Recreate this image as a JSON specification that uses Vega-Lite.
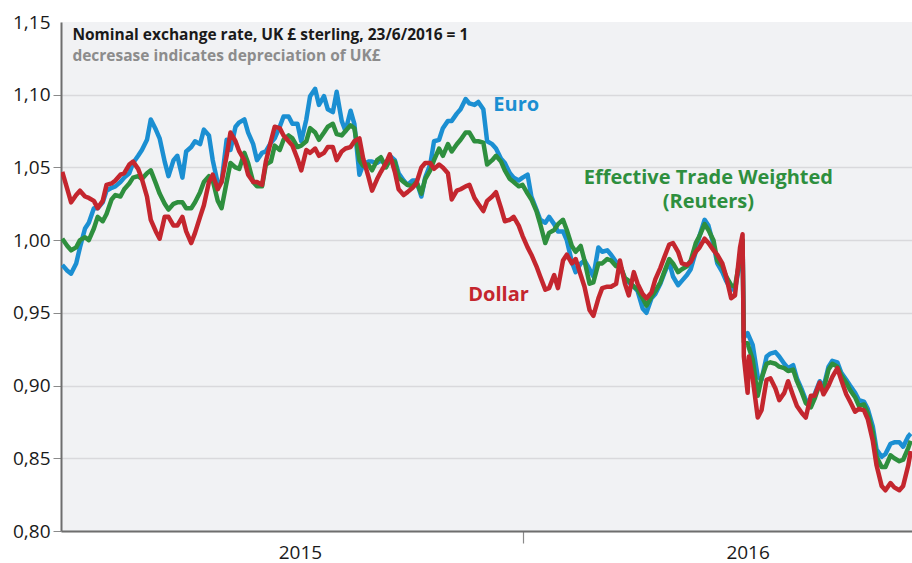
{
  "$schema": "https://vega.github.io/schema/vega-lite/v6.json",
  "width": 851,
  "height": 509,
  "autosize": {"type": "none"},
  "padding": {"left": 61, "top": 22, "right": 0, "bottom": 32},
  "background": "white",
  "config": {"view": {"fill": "#f1f2f4", "stroke": null}, "font": "Open Sans"},
  "datasets": {
    "fx": [
    {"d":"2015-01-02","e":0.983,"t":1.001,"u":1.047},
    {"d":"2015-01-06","e":0.979,"t":0.996,"u":1.035},
    {"d":"2015-01-09","e":0.977,"t":0.993,"u":1.026},
    {"d":"2015-01-13","e":0.984,"t":0.995,"u":1.031},
    {"d":"2015-01-16","e":0.995,"t":1.000,"u":1.034},
    {"d":"2015-01-20","e":1.008,"t":1.002,"u":1.030},
    {"d":"2015-01-23","e":1.012,"t":1.000,"u":1.029},
    {"d":"2015-01-27","e":1.022,"t":1.008,"u":1.027},
    {"d":"2015-01-30","e":1.022,"t":1.016,"u":1.022},
    {"d":"2015-02-03","e":1.026,"t":1.013,"u":1.027},
    {"d":"2015-02-06","e":1.034,"t":1.018,"u":1.038},
    {"d":"2015-02-10","e":1.036,"t":1.028,"u":1.039},
    {"d":"2015-02-13","e":1.037,"t":1.031,"u":1.041},
    {"d":"2015-02-17","e":1.040,"t":1.030,"u":1.045},
    {"d":"2015-02-20","e":1.043,"t":1.035,"u":1.046},
    {"d":"2015-02-24","e":1.046,"t":1.039,"u":1.052},
    {"d":"2015-02-27","e":1.053,"t":1.043,"u":1.054},
    {"d":"2015-03-03","e":1.058,"t":1.044,"u":1.049},
    {"d":"2015-03-06","e":1.062,"t":1.042,"u":1.042},
    {"d":"2015-03-10","e":1.069,"t":1.046,"u":1.030},
    {"d":"2015-03-13","e":1.083,"t":1.048,"u":1.014},
    {"d":"2015-03-17","e":1.076,"t":1.039,"u":1.006},
    {"d":"2015-03-20","e":1.070,"t":1.032,"u":1.001},
    {"d":"2015-03-24","e":1.054,"t":1.025,"u":1.016},
    {"d":"2015-03-27","e":1.044,"t":1.021,"u":1.016},
    {"d":"2015-03-31","e":1.055,"t":1.025,"u":1.010},
    {"d":"2015-04-03","e":1.058,"t":1.026,"u":1.010},
    {"d":"2015-04-07","e":1.043,"t":1.026,"u":1.016},
    {"d":"2015-04-10","e":1.061,"t":1.022,"u":1.006},
    {"d":"2015-04-14","e":1.064,"t":1.022,"u":0.998},
    {"d":"2015-04-17","e":1.068,"t":1.026,"u":1.005},
    {"d":"2015-04-21","e":1.066,"t":1.033,"u":1.016},
    {"d":"2015-04-24","e":1.076,"t":1.040,"u":1.024},
    {"d":"2015-04-28","e":1.072,"t":1.044,"u":1.040},
    {"d":"2015-05-01","e":1.055,"t":1.041,"u":1.045},
    {"d":"2015-05-05","e":1.039,"t":1.027,"u":1.035},
    {"d":"2015-05-08","e":1.040,"t":1.022,"u":1.040},
    {"d":"2015-05-12","e":1.069,"t":1.040,"u":1.058},
    {"d":"2015-05-15","e":1.062,"t":1.053,"u":1.074},
    {"d":"2015-05-19","e":1.078,"t":1.050,"u":1.068},
    {"d":"2015-05-22","e":1.081,"t":1.049,"u":1.061},
    {"d":"2015-05-26","e":1.083,"t":1.060,"u":1.055},
    {"d":"2015-05-29","e":1.074,"t":1.053,"u":1.045},
    {"d":"2015-06-02","e":1.066,"t":1.040,"u":1.040},
    {"d":"2015-06-05","e":1.055,"t":1.037,"u":1.040},
    {"d":"2015-06-09","e":1.060,"t":1.037,"u":1.038},
    {"d":"2015-06-12","e":1.061,"t":1.052,"u":1.054},
    {"d":"2015-06-16","e":1.067,"t":1.054,"u":1.068},
    {"d":"2015-06-19","e":1.070,"t":1.065,"u":1.078},
    {"d":"2015-06-23","e":1.078,"t":1.062,"u":1.077},
    {"d":"2015-06-26","e":1.085,"t":1.069,"u":1.072},
    {"d":"2015-06-30","e":1.085,"t":1.072,"u":1.068},
    {"d":"2015-07-03","e":1.080,"t":1.070,"u":1.065},
    {"d":"2015-07-07","e":1.080,"t":1.064,"u":1.056},
    {"d":"2015-07-10","e":1.068,"t":1.065,"u":1.048},
    {"d":"2015-07-14","e":1.083,"t":1.068,"u":1.062},
    {"d":"2015-07-17","e":1.099,"t":1.077,"u":1.060},
    {"d":"2015-07-21","e":1.104,"t":1.074,"u":1.063},
    {"d":"2015-07-24","e":1.093,"t":1.069,"u":1.058},
    {"d":"2015-07-28","e":1.099,"t":1.074,"u":1.060},
    {"d":"2015-07-31","e":1.090,"t":1.078,"u":1.064},
    {"d":"2015-08-04","e":1.088,"t":1.080,"u":1.064},
    {"d":"2015-08-07","e":1.102,"t":1.073,"u":1.055},
    {"d":"2015-08-11","e":1.082,"t":1.072,"u":1.061},
    {"d":"2015-08-14","e":1.075,"t":1.075,"u":1.063},
    {"d":"2015-08-18","e":1.089,"t":1.079,"u":1.064},
    {"d":"2015-08-21","e":1.080,"t":1.077,"u":1.068},
    {"d":"2015-08-25","e":1.045,"t":1.055,"u":1.070},
    {"d":"2015-08-28","e":1.052,"t":1.051,"u":1.056},
    {"d":"2015-09-01","e":1.054,"t":1.052,"u":1.044},
    {"d":"2015-09-04","e":1.054,"t":1.048,"u":1.034},
    {"d":"2015-09-08","e":1.053,"t":1.055,"u":1.042},
    {"d":"2015-09-11","e":1.055,"t":1.057,"u":1.047},
    {"d":"2015-09-15","e":1.052,"t":1.050,"u":1.053},
    {"d":"2015-09-18","e":1.058,"t":1.055,"u":1.059},
    {"d":"2015-09-22","e":1.055,"t":1.054,"u":1.047},
    {"d":"2015-09-25","e":1.046,"t":1.043,"u":1.035},
    {"d":"2015-09-29","e":1.041,"t":1.040,"u":1.031},
    {"d":"2015-10-02","e":1.038,"t":1.038,"u":1.033},
    {"d":"2015-10-06","e":1.041,"t":1.037,"u":1.036},
    {"d":"2015-10-09","e":1.041,"t":1.040,"u":1.039},
    {"d":"2015-10-13","e":1.030,"t":1.032,"u":1.050},
    {"d":"2015-10-16","e":1.043,"t":1.042,"u":1.053},
    {"d":"2015-10-20","e":1.052,"t":1.048,"u":1.053},
    {"d":"2015-10-23","e":1.068,"t":1.055,"u":1.049},
    {"d":"2015-10-27","e":1.069,"t":1.063,"u":1.052},
    {"d":"2015-10-30","e":1.077,"t":1.058,"u":1.050},
    {"d":"2015-11-03","e":1.082,"t":1.066,"u":1.046},
    {"d":"2015-11-06","e":1.082,"t":1.061,"u":1.028},
    {"d":"2015-11-10","e":1.087,"t":1.066,"u":1.034},
    {"d":"2015-11-13","e":1.090,"t":1.069,"u":1.035},
    {"d":"2015-11-17","e":1.097,"t":1.074,"u":1.037},
    {"d":"2015-11-20","e":1.094,"t":1.074,"u":1.038},
    {"d":"2015-11-24","e":1.093,"t":1.068,"u":1.029},
    {"d":"2015-11-27","e":1.095,"t":1.068,"u":1.025},
    {"d":"2015-12-01","e":1.090,"t":1.067,"u":1.020},
    {"d":"2015-12-04","e":1.068,"t":1.052,"u":1.027},
    {"d":"2015-12-08","e":1.066,"t":1.055,"u":1.030},
    {"d":"2015-12-11","e":1.063,"t":1.058,"u":1.033},
    {"d":"2015-12-15","e":1.056,"t":1.054,"u":1.022},
    {"d":"2015-12-18","e":1.053,"t":1.048,"u":1.013},
    {"d":"2015-12-22","e":1.046,"t":1.042,"u":1.014},
    {"d":"2015-12-25","e":1.043,"t":1.040,"u":1.016},
    {"d":"2015-12-29","e":1.041,"t":1.037,"u":1.010},
    {"d":"2016-01-01","e":1.043,"t":1.038,"u":1.003},
    {"d":"2016-01-05","e":1.045,"t":1.032,"u":0.995},
    {"d":"2016-01-08","e":1.030,"t":1.028,"u":0.990},
    {"d":"2016-01-12","e":1.021,"t":1.020,"u":0.982},
    {"d":"2016-01-15","e":1.014,"t":1.011,"u":0.975},
    {"d":"2016-01-19","e":1.012,"t":0.998,"u":0.966},
    {"d":"2016-01-22","e":1.016,"t":1.005,"u":0.967},
    {"d":"2016-01-26","e":1.011,"t":1.007,"u":0.976},
    {"d":"2016-01-29","e":1.006,"t":1.011,"u":0.967},
    {"d":"2016-02-02","e":1.006,"t":1.014,"u":0.986},
    {"d":"2016-02-05","e":1.000,"t":1.007,"u":0.990},
    {"d":"2016-02-09","e":0.985,"t":0.996,"u":0.984},
    {"d":"2016-02-12","e":0.978,"t":0.992,"u":0.987},
    {"d":"2016-02-16","e":0.984,"t":0.996,"u":0.976},
    {"d":"2016-02-19","e":0.986,"t":0.986,"u":0.968},
    {"d":"2016-02-23","e":0.980,"t":0.970,"u":0.952},
    {"d":"2016-02-26","e":0.975,"t":0.971,"u":0.948},
    {"d":"2016-03-01","e":0.995,"t":0.984,"u":0.960},
    {"d":"2016-03-04","e":0.992,"t":0.984,"u":0.967},
    {"d":"2016-03-08","e":0.993,"t":0.987,"u":0.968},
    {"d":"2016-03-11","e":0.990,"t":0.986,"u":0.968},
    {"d":"2016-03-15","e":0.985,"t":0.982,"u":0.970},
    {"d":"2016-03-18","e":0.983,"t":0.983,"u":0.986},
    {"d":"2016-03-22","e":0.973,"t":0.974,"u":0.970},
    {"d":"2016-03-25","e":0.971,"t":0.972,"u":0.962},
    {"d":"2016-03-29","e":0.968,"t":0.968,"u":0.978},
    {"d":"2016-04-01","e":0.965,"t":0.966,"u":0.970},
    {"d":"2016-04-05","e":0.953,"t":0.960,"u":0.963},
    {"d":"2016-04-08","e":0.950,"t":0.955,"u":0.960},
    {"d":"2016-04-12","e":0.960,"t":0.961,"u":0.964},
    {"d":"2016-04-15","e":0.963,"t":0.965,"u":0.973},
    {"d":"2016-04-19","e":0.970,"t":0.971,"u":0.981},
    {"d":"2016-04-22","e":0.977,"t":0.978,"u":0.988},
    {"d":"2016-04-26","e":0.985,"t":0.987,"u":0.997},
    {"d":"2016-04-29","e":0.975,"t":0.984,"u":0.998},
    {"d":"2016-05-03","e":0.969,"t":0.978,"u":0.992},
    {"d":"2016-05-06","e":0.972,"t":0.980,"u":0.984},
    {"d":"2016-05-10","e":0.976,"t":0.982,"u":0.983},
    {"d":"2016-05-13","e":0.980,"t":0.986,"u":0.985},
    {"d":"2016-05-17","e":0.992,"t":0.998,"u":0.992},
    {"d":"2016-05-20","e":1.003,"t":1.003,"u":0.995},
    {"d":"2016-05-24","e":1.014,"t":1.011,"u":1.001},
    {"d":"2016-05-27","e":1.010,"t":1.007,"u":0.998},
    {"d":"2016-05-31","e":0.997,"t":1.000,"u":0.993},
    {"d":"2016-06-03","e":0.984,"t":0.986,"u":0.990},
    {"d":"2016-06-07","e":0.978,"t":0.982,"u":0.984},
    {"d":"2016-06-10","e":0.972,"t":0.975,"u":0.975},
    {"d":"2016-06-14","e":0.966,"t":0.969,"u":0.960},
    {"d":"2016-06-17","e":0.966,"t":0.968,"u":0.962},
    {"d":"2016-06-21","e":0.985,"t":0.988,"u":0.995},
    {"d":"2016-06-23","e":1.000,"t":1.000,"u":1.004},
    {"d":"2016-06-24","e":0.933,"t":0.930,"u":0.920},
    {"d":"2016-06-27","e":0.936,"t":0.929,"u":0.895},
    {"d":"2016-06-28","e":0.934,"t":0.926,"u":0.920},
    {"d":"2016-07-01","e":0.928,"t":0.918,"u":0.905},
    {"d":"2016-07-05","e":0.906,"t":0.893,"u":0.878},
    {"d":"2016-07-08","e":0.904,"t":0.905,"u":0.883},
    {"d":"2016-07-12","e":0.920,"t":0.915,"u":0.904},
    {"d":"2016-07-15","e":0.922,"t":0.916,"u":0.905},
    {"d":"2016-07-19","e":0.923,"t":0.915,"u":0.898},
    {"d":"2016-07-22","e":0.920,"t":0.913,"u":0.890},
    {"d":"2016-07-26","e":0.915,"t":0.912,"u":0.895},
    {"d":"2016-07-29","e":0.912,"t":0.910,"u":0.903},
    {"d":"2016-08-02","e":0.914,"t":0.911,"u":0.893},
    {"d":"2016-08-05","e":0.905,"t":0.903,"u":0.886},
    {"d":"2016-08-09","e":0.897,"t":0.895,"u":0.881},
    {"d":"2016-08-12","e":0.890,"t":0.888,"u":0.878},
    {"d":"2016-08-16","e":0.889,"t":0.885,"u":0.893},
    {"d":"2016-08-19","e":0.894,"t":0.891,"u":0.893},
    {"d":"2016-08-23","e":0.903,"t":0.901,"u":0.902},
    {"d":"2016-08-26","e":0.899,"t":0.897,"u":0.894},
    {"d":"2016-08-30","e":0.913,"t":0.911,"u":0.900},
    {"d":"2016-09-02","e":0.917,"t":0.915,"u":0.906},
    {"d":"2016-09-06","e":0.916,"t":0.913,"u":0.912},
    {"d":"2016-09-09","e":0.909,"t":0.907,"u":0.904},
    {"d":"2016-09-13","e":0.904,"t":0.902,"u":0.894},
    {"d":"2016-09-16","e":0.900,"t":0.897,"u":0.889},
    {"d":"2016-09-20","e":0.895,"t":0.892,"u":0.882},
    {"d":"2016-09-23","e":0.890,"t":0.886,"u":0.884},
    {"d":"2016-09-27","e":0.889,"t":0.887,"u":0.883},
    {"d":"2016-09-30","e":0.884,"t":0.881,"u":0.877},
    {"d":"2016-10-04","e":0.872,"t":0.868,"u":0.862},
    {"d":"2016-10-07","e":0.856,"t":0.851,"u":0.845},
    {"d":"2016-10-11","e":0.851,"t":0.844,"u":0.831},
    {"d":"2016-10-14","e":0.853,"t":0.844,"u":0.828},
    {"d":"2016-10-18","e":0.860,"t":0.852,"u":0.833},
    {"d":"2016-10-21","e":0.861,"t":0.850,"u":0.830},
    {"d":"2016-10-25","e":0.861,"t":0.848,"u":0.828},
    {"d":"2016-10-28","e":0.858,"t":0.849,"u":0.831},
    {"d":"2016-11-01","e":0.865,"t":0.857,"u":0.845},
    {"d":"2016-11-03","e":0.867,"t":0.862,"u":0.855}
    ],
    "notes": [
      {"label": "Nominal exchange rate, UK £ sterling, 23/6/2016 = 1", "kind": "head", "at": "2015-01-10", "level": 1.1376},
      {"label": "decresase indicates depreciation of UK£", "kind": "sub", "at": "2015-01-10", "level": 1.1232},
      {"label": "Euro", "kind": "Euro", "at": "2015-12-27", "level": 1.093},
      {"label": "Effective Trade Weighted", "kind": "Effective", "at": "2016-05-27", "level": 1.043},
      {"label": "(Reuters)", "kind": "Effective", "at": "2016-05-27", "level": 1.026},
      {"label": "Dollar", "kind": "Dollar", "at": "2015-12-13", "level": 0.9625}
    ]
  },
  "layer": [
    {
      "data": {"name": "fx"},
      "mark": {"type": "line", "color": "#1b8fd2", "strokeWidth": 4.5, "clip": true, "strokeJoin": "round"},
      "encoding": {
        "x": {
          "field": "d", "type": "temporal",
          "scale": {"domain": [{"year": 2015, "month": 1, "date": 1}, {"year": 2016, "month": 11, "date": 4}]},
          "axis": {
            "title": null, "grid": false,
            "values": [{"year": 2015, "month": 7, "date": 9}, {"year": 2016, "month": 1, "date": 1}, {"year": 2016, "month": 6, "date": 27}],
            "labelExpr": "(month(datum.value) == 0 && date(datum.value) == 1) ? '' : timeFormat(datum.value, '%Y')",
            "tickOpacity": {"condition": {"test": "month(datum.value) == 0 && date(datum.value) == 1", "value": 1}, "value": 0},
            "tickSize": 12, "tickColor": "#8a8a8a", "tickWidth": 1.2,
            "domainColor": "#6e6e6e", "domainWidth": 2,
            "labelFontSize": 19, "labelColor": "#1a1a1a", "labelPadding": 0, "labelFont": "Open Sans"
          }
        },
        "y": {
          "field": "e", "type": "quantitative",
          "scale": {"domain": [0.8, 1.15], "nice": false, "zero": false},
          "axis": {
            "title": null,
            "values": [0.8, 0.85, 0.9, 0.95, 1.0, 1.05, 1.1, 1.15],
            "labelExpr": "replace(format(datum.value, '.2f'), '.', ',')",
            "grid": true, "gridColor": "#d9d9dc", "gridWidth": 1.5,
            "gridOpacity": {"condition": {"test": "datum.value > 1.149", "value": 0}, "value": 1},
            "tickOpacity": {"condition": {"test": "datum.value > 1.149", "value": 0}, "value": 1},
            "domainColor": "#6e6e6e", "domainWidth": 2,
            "tickColor": "#8a8a8a", "tickSize": 8,
            "labelFontSize": 19, "labelColor": "#1a1a1a", "labelPadding": 3, "labelFont": "Open Sans"
          }
        }
      }
    },
    {
      "data": {"name": "fx"},
      "mark": {"type": "line", "color": "#2e8f3e", "strokeWidth": 4.5, "clip": true, "strokeJoin": "round"},
      "encoding": {"x": {"field": "d", "type": "temporal"}, "y": {"field": "t", "type": "quantitative"}}
    },
    {
      "data": {"name": "fx"},
      "mark": {"type": "line", "color": "#c4262e", "strokeWidth": 4.5, "clip": true, "strokeJoin": "round"},
      "encoding": {"x": {"field": "d", "type": "temporal"}, "y": {"field": "u", "type": "quantitative"}}
    },
    {
      "data": {"name": "notes"},
      "transform": [{"filter": "datum.kind == 'head' || datum.kind == 'sub'"}],
      "mark": {"type": "text", "align": "left", "baseline": "alphabetic", "fontSize": 15.5, "fontWeight": "bold", "font": "Open Sans"},
      "encoding": {
        "x": {"field": "at", "type": "temporal"},
        "y": {"field": "level", "type": "quantitative"},
        "text": {"field": "label"},
        "color": {"field": "kind", "type": "nominal", "scale": {"domain": ["head", "sub", "Euro", "Effective", "Dollar"], "range": ["#1a1a1a", "#8c8c8c", "#1b8fd2", "#2e8f3e", "#c4262e"]}, "legend": null}
      }
    },
    {
      "data": {"name": "notes"},
      "transform": [{"filter": "datum.kind != 'head' && datum.kind != 'sub'"}],
      "mark": {"type": "text", "align": "center", "baseline": "middle", "fontSize": 20, "fontWeight": "bold", "font": "Open Sans"},
      "encoding": {
        "x": {"field": "at", "type": "temporal"},
        "y": {"field": "level", "type": "quantitative"},
        "text": {"field": "label"},
        "color": {"field": "kind", "type": "nominal", "legend": null}
      }
    }
  ]
}
